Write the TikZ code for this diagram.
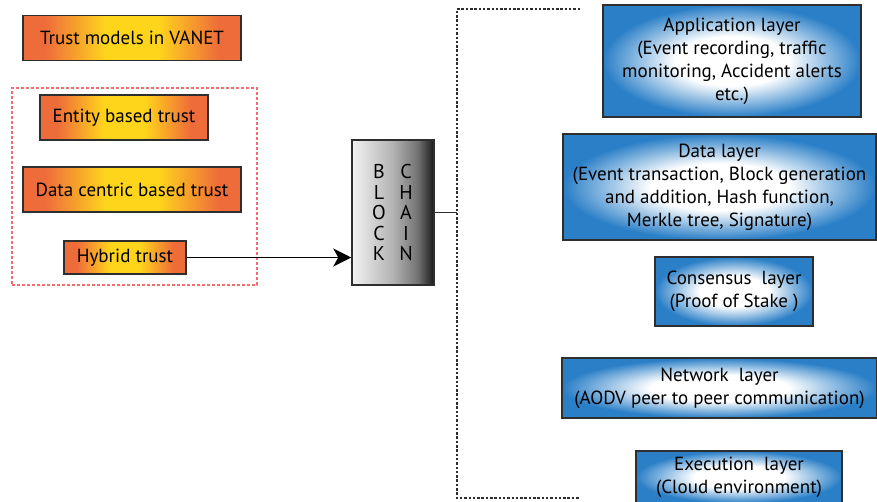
\documentclass[tikz,border=0pt]{standalone}
\usepackage{fontspec}
\setmainfont{PT Sans}
\usetikzlibrary{arrows.meta, positioning}
\usepackage{xcolor}
\definecolor{TrustOrange}{HTML}{EE6B3A}
\definecolor{TrustYellow}{HTML}{FFD51C}
\definecolor{LayerBlue}{HTML}{2A7FC7}
\definecolor{EdgeGrey}{HTML}{2E2E2E}
\definecolor{GroupRed}{HTML}{F26D6D}
\pgfdeclarehorizontalshading{trustshade}{100bp}{color(0bp)=(TrustOrange); color(30bp)=(TrustOrange); color(44bp)=(TrustYellow); color(56bp)=(TrustYellow); color(70bp)=(TrustOrange); color(100bp)=(TrustOrange)}
\pgfdeclareradialshading{layershade}{\pgfpoint{0bp}{0bp}}{color(0bp)=(white); color(11bp)=(white); color(25bp)=(LayerBlue); color(50bp)=(LayerBlue)}
\pgfdeclarehorizontalshading{chainshade}{100bp}{color(0bp)=(black!5); color(25bp)=(black!5); color(50bp)=(black!30); color(65bp)=(black!55); color(75bp)=(black!90); color(100bp)=(black!90)}

\begin{document}
\begin{tikzpicture}[x=1pt, y=-1pt,
    trust/.style={rectangle, draw=EdgeGrey, line width=1.5pt, shading=trustshade, inner sep=0pt, minimum height=45pt, font=\fontsize{19}{22}\selectfont},
    layer/.style={rectangle, draw=EdgeGrey, line width=1.5pt, shading=layershade, inner sep=0pt, align=center, font=\fontsize{19}{23}\selectfont},
    chainbox/.style={rectangle, draw=EdgeGrey, line width=1.5pt, shading=chainshade, inner sep=0pt, minimum width=82pt, minimum height=145pt},
    letters/.style={align=center, inner sep=0pt, font=\fontsize{20}{20.5}\selectfont},
    group/.style={rectangle, draw=GroupRed, line width=1.5pt, dash pattern=on 3pt off 2pt, minimum width=245pt, minimum height=197pt},
    rail/.style={draw=EdgeGrey, line width=1.8pt, dash pattern=on 2.5pt off 1.8pt},
    arrow/.style={-{Stealth[length=18pt, width=18pt, inset=5pt]}, line width=1.5pt, color=black},
    link/.style={line width=1.5pt, color=EdgeGrey}
  ]
  \useasboundingbox (0,0) rectangle (877,501);

  % Trust models (left)
  \node[trust, minimum width=218pt] (title) at (132,38) {Trust models in VANET};
  \node[group] (grp) at (134.5,186.5) {};
  \node[trust, minimum width=168pt] (entity) at (124,117.5) {Entity based trust};
  \node[trust, minimum width=218pt] (datac) at (132,189.5) {Data centric based trust};
  \node[trust, minimum width=122pt, minimum height=33pt] (hybrid) at (125,257.5) {Hybrid trust};

  % Blockchain
  \node[chainbox] (chain) at (393,212.5) {};
  \node[letters] (blk) at (379,212.5) {B\\L\\O\\C\\K};
  \node[letters] (chn) at (406,212.5) {C\\H\\A\\I\\N};

  % Layers (right)
  \node[layer, minimum width=258pt, minimum height=112pt] (app) at (732,61) {Application layer\\(Event recording, traffic\\monitoring, Accident alerts\\etc.)};
  \node[layer, minimum width=313pt, minimum height=106pt] (data) at (719.5,187) {Data layer\\(Event transaction, Block generation\\and addition, Hash function,\\Merkle tree, Signature)};
  \node[layer, minimum width=158pt, minimum height=69pt] (cons) at (734,291.5) {Consensus~ layer\\(Proof of Stake )};
  \node[layer, minimum width=315pt, minimum height=60pt] (net) at (719.5,388) {Network~ layer\\(AODV peer to peer communication)};
  \node[layer, minimum width=206pt, minimum height=52pt] (exec) at (739,477) {Execution~ layer\\(Cloud environment)};

  % Bracket round the layers
  \coordinate (railNE) at (580,9);
  \coordinate (railNW) at (457,9);
  \coordinate (railSW) at (457,498);
  \coordinate (railSE) at (580,498);
  \draw[rail] (railNE) -- (railNW) -- (railSW) -- (railSE);

  % Connectors
  \draw[arrow] (hybrid.east) -- (hybrid.east -| chain.west);
  \draw[link] (chain.east) -- (chain.east -| railNW);
\end{tikzpicture}
\end{document}
